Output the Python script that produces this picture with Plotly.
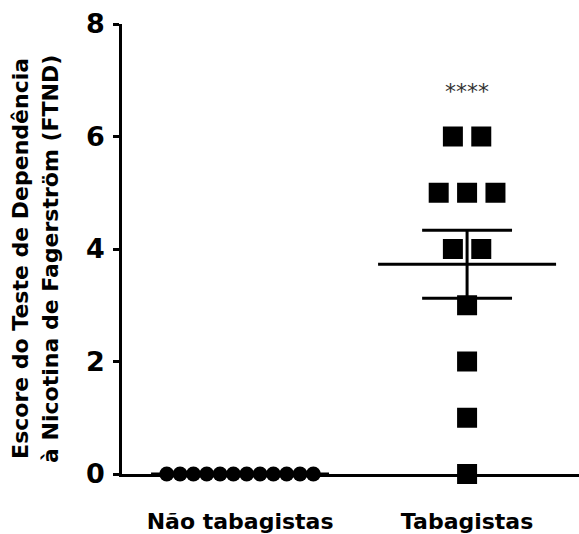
import numpy as np
import plotly.graph_objects as go

categories = ["Não tabagistas", "Tabagistas"]
nao_tabagistas = [0, 0, 0, 0, 0, 0, 0, 0, 0, 0, 0, 0]
tabagistas = [6, 6, 5, 5, 5, 4, 4, 3, 2, 1, 0]
y_ticks = [0, 2, 4, 6, 8]
significance = "****"
y_title_lines = ["Escore do Teste de Dependência", "à Nicotina de Fagerström (FTND)"]

FONT = "DejaVu Sans"


def column_offsets(values, spacing):
    """Horizontal offsets that spread equal values side by side."""
    vals = np.asarray(values, dtype=float)
    offs = np.zeros(len(vals))
    for v in np.unique(vals):
        idx = np.where(vals == v)[0]
        n = len(idx)
        offs[idx] = (np.arange(n) - (n - 1) / 2) * spacing
    return offs


fig = go.Figure()

groups = [(0, nao_tabagistas, "circle", 15, 0.0587), (1, tabagistas, "square", 20, 0.125)]

# mean +/- SEM lines
for xc, vals, _, _, _ in groups:
    v = np.asarray(vals, dtype=float)
    m = v.mean()
    sem = v.std(ddof=1) / np.sqrt(len(v))
    line = dict(color="black", width=3)
    fig.add_trace(go.Scatter(x=[xc - 0.392, xc + 0.392], y=[m, m], mode="lines",
                             line=line, cliponaxis=False, hoverinfo="skip"))
    fig.add_trace(go.Scatter(x=[xc, xc], y=[m - sem, m + sem], mode="lines",
                             line=line, cliponaxis=False, hoverinfo="skip"))
    for yy in (m - sem, m + sem):
        fig.add_trace(go.Scatter(x=[xc - 0.198, xc + 0.198], y=[yy, yy], mode="lines",
                                 line=line, cliponaxis=False, hoverinfo="skip"))

# points
for xc, vals, sym, size, spacing in groups:
    offs = column_offsets(vals, spacing)
    fig.add_trace(go.Scatter(x=xc + offs, y=vals, mode="markers",
                             marker=dict(symbol=sym, size=size, color="black",
                                         line=dict(width=0)),
                             cliponaxis=False))

fig.add_annotation(x=1, y=6.8, xref="x", yref="y", text=significance, showarrow=False,
                   font=dict(family=FONT, size=22, color="#333333"), yanchor="middle")

# y-axis title (two lines)
for px, text in zip([21, 51], y_title_lines):
    fig.add_annotation(x=(px - 122) / 457, y=0.478, xref="paper", yref="paper",
                       text=text, textangle=-90, showarrow=False,
                       xanchor="center", yanchor="middle",
                       font=dict(family=FONT, size=22, color="black", weight="bold"))

fig.update_layout(
    width=579, height=534,
    margin=dict(l=122, r=0, t=24, b=58),
    paper_bgcolor="white", plot_bgcolor="white",
    showlegend=False,
    xaxis=dict(range=[-0.52, 1.493], tickvals=[0, 1], ticktext=categories,
               showline=True, linecolor="black", linewidth=2.5, ticks="",
               showgrid=False, zeroline=False, ticklabelstandoff=26,
               tickfont=dict(family=FONT, size=22, color="black", weight="bold")),
    yaxis=dict(range=[0, 8], tickvals=y_ticks, showline=True, linecolor="black",
               linewidth=2.5, ticks="outside", ticklen=6, tickwidth=2.5,
               tickcolor="black", showgrid=False, zeroline=False,
               ticklabelstandoff=3,
               tickfont=dict(family=FONT, size=27, color="black", weight="bold")),
)

fig.write_html("out.html", config={"displayModeBar": False},
               post_script="document.body.style.margin='0';document.body.style.overflow='hidden';")
